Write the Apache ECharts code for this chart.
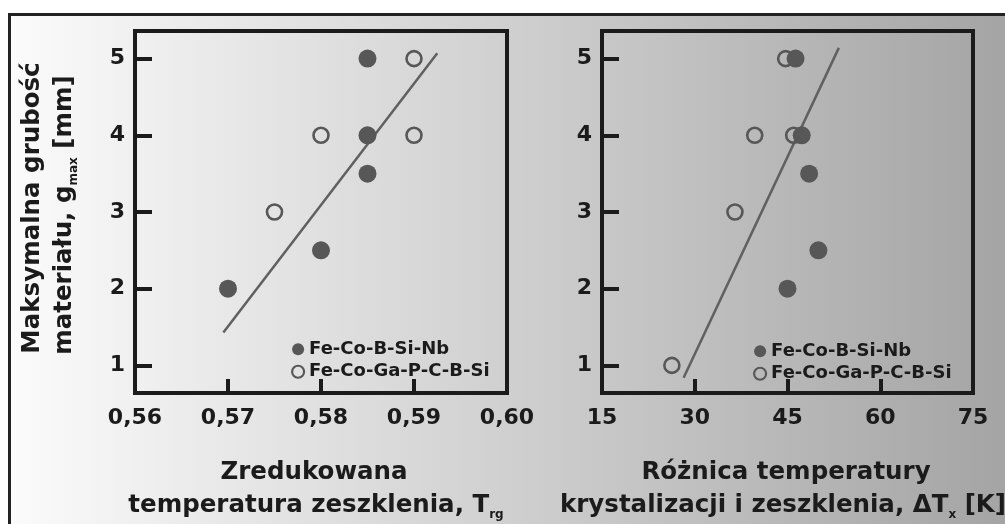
<!DOCTYPE html>
<html><head><meta charset="utf-8">
<script src="https://cdn.jsdelivr.net/npm/echarts@6/dist/echarts.min.js"></script>
<style>html,body{margin:0;padding:0;background:#fff}#c{width:1005px;height:524px}</style>
</head><body><div id="c"></div>
<script>
// ---- data ----
const seriesNames = ['Fe-Co-B-Si-Nb', 'Fe-Co-Ga-P-C-B-Si'];
const yTicks = [1, 2, 3, 4, 5];
const xTicksTrg = [0.56, 0.57, 0.58, 0.59, 0.60];
const xTicksDT = [15, 30, 45, 60, 75];
// left panel: reduced glass transition temperature T_rg vs g_max
const trgFilled = [[0.570, 2], [0.580, 2.5], [0.585, 3.5], [0.585, 4], [0.585, 5]];
const trgOpen = [[0.575, 3], [0.580, 4], [0.590, 4], [0.590, 5]];
const trgFit = [[0.5695, 1.43], [0.5925, 5.07]];
// right panel: ΔT_x vs g_max
const dtFilled = [[45, 2], [50, 2.5], [48.5, 3.5], [47.3, 4], [46.3, 5]];
const dtOpen = [[26.3, 1], [36.5, 3], [39.7, 4], [46, 4], [44.7, 5]];
const dtFit = [[28.2, 0.84], [53.3, 5.14]];

const FONT = '"DejaVu Sans", "Liberation Sans", sans-serif';
const INK = '#1b1b1b';
const MARK = '#575757';

function xAxisCfg(gi, ticks, fmt) {
  return {
    type: 'value', gridIndex: gi,
    min: ticks[0], max: ticks[ticks.length - 1],
    interval: ticks[1] - ticks[0],
    axisLine: { show: false },
    splitLine: { show: false },
    axisTick: { show: true, inside: true, length: 14, lineStyle: { color: INK, width: 4 } },
    axisLabel: { show: true, showMinLabel: true, showMaxLabel: true, margin: 14,
      fontFamily: FONT, fontWeight: 'bold', fontSize: 22, color: INK, formatter: fmt }
  };
}
function yAxisCfg(gi) {
  return {
    type: 'value', gridIndex: gi, min: 0.64, max: 5.36,
    axisLine: { show: false },
    splitLine: { show: false },
    axisTick: { show: true, inside: true, length: 17, customValues: yTicks, lineStyle: { color: INK, width: 4 } },
    axisLabel: { show: true, margin: 10, customValues: yTicks,
      fontFamily: FONT, fontWeight: 'bold', fontSize: 22, color: INK }
  };
}
function legendCfg(left, top) {
  return {
    orient: 'vertical', left: left, top: top, selectedMode: false,
    itemWidth: 12, itemHeight: 12, itemGap: 4, itemTextGap: 10,
    textStyle: { fontFamily: FONT, fontWeight: 'bold', fontSize: 18, lineHeight: 18.5, color: INK },
    data: [
      { name: seriesNames[0], icon: 'circle', itemStyle: { color: MARK, borderWidth: 0 } },
      { name: seriesNames[1], icon: 'circle', itemStyle: { color: 'rgba(0,0,0,0)', borderColor: MARK, borderWidth: 2.2 } }
    ]
  };
}
function filled(xi, data) {
  return { type: 'scatter', name: seriesNames[0], xAxisIndex: xi, yAxisIndex: xi, data: data,
    symbol: 'circle', symbolSize: 18, z: 4, itemStyle: { color: MARK, opacity: 1 } };
}
function open(xi, data) {
  return { type: 'scatter', name: seriesNames[1], xAxisIndex: xi, yAxisIndex: xi, data: data,
    symbol: 'circle', symbolSize: 15, z: 3, itemStyle: { color: 'rgba(0,0,0,0)', borderColor: MARK, borderWidth: 2.6, opacity: 1 } };
}
function fit(xi, data) {
  return { type: 'line', xAxisIndex: xi, yAxisIndex: xi, data: data, showSymbol: false, silent: true, z: 2,
    lineStyle: { color: '#606060', width: 2.5 } };
}
function sub(main, subTxt, rest) {
  return '{a|' + main + '}{s|' + subTxt + '}' + (rest ? '{a|' + rest + '}' : '');
}
const titleRich = {
  a: { fontFamily: FONT, fontWeight: 'bold', fontSize: 24.5, lineHeight: 30, fill: INK, color: INK },
  s: { fontFamily: FONT, fontWeight: 'bold', fontSize: 12, lineHeight: 12, fill: INK, color: INK, verticalAlign: 'bottom' }
};
function titleText(x, y, text, rot) {
  return { type: 'text', x: x, y: y, rotation: rot || 0, z: 50,
    style: { text: text, rich: titleRich, align: 'center', verticalAlign: 'middle',
      fontFamily: FONT, fontWeight: 'bold', fontSize: 24.5, fill: INK } };
}

const chart = echarts.init(document.getElementById('c'), null, { renderer: 'canvas' });
chart.setOption({
  animation: false,
  backgroundColor: '#ffffff',
  grid: [
    { left: 135, top: 31, width: 372, height: 362, show: true, borderColor: INK, borderWidth: 4, backgroundColor: 'transparent' },
    { left: 602, top: 31, width: 371, height: 362, show: true, borderColor: INK, borderWidth: 4, backgroundColor: 'transparent' }
  ],
  xAxis: [
    xAxisCfg(0, xTicksTrg, v => v.toFixed(2).replace('.', ',')),
    xAxisCfg(1, xTicksDT, v => String(v))
  ],
  yAxis: [yAxisCfg(0), yAxisCfg(1)],
  legend: [legendCfg(286, 335), legendCfg(748, 337)],
  series: [
    fit(0, trgFit), filled(0, trgFilled), open(0, trgOpen),
    fit(1, dtFit), filled(1, dtFilled), open(1, dtOpen)
  ],
  graphic: [
    { type: 'rect', z: -10, silent: true, shape: { x: 9, y: 14, width: 1000, height: 515 },
      style: { fill: new echarts.graphic.LinearGradient(0, 0, 1, 0, [
        { offset: 0, color: '#fbfbfb' }, { offset: 1, color: '#a4a4a4' }]) } },
    { type: 'rect', z: 60, silent: true, shape: { x: 9.5, y: 14.5, width: 1010, height: 520 },
      style: { fill: 'none', stroke: '#222', lineWidth: 3 } },
    titleText(33, 208, '{a|Maksymalna grubość}', Math.PI / 2),
    titleText(65, 215, sub('materiału, g', 'max', ' [mm]'), Math.PI / 2),
    titleText(314, 473, '{a|Zredukowana}'),
    titleText(316, 506, sub('temperatura zeszklenia, T', 'rg')),
    titleText(786, 473, '{a|Różnica temperatury}'),
    titleText(783, 506, sub('krystalizacji i zeszklenia, ΔT', 'x', ' [K]'))
  ]
});
</script>
</body></html>
